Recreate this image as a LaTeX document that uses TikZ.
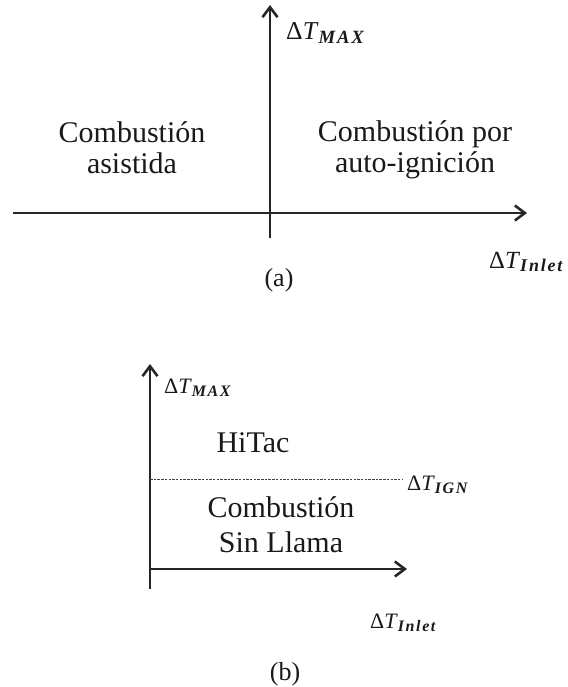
\documentclass[tikz,border=0pt]{standalone}
\usepackage{fontspec}
\setmainfont{Liberation Serif}
\usetikzlibrary{arrows.meta}
\newcommand{\subfnt}{\fontsize{16}{16}\selectfont\bfseries\itshape\addfontfeatures{LetterSpace=10}}
\newcommand{\dlab}[1]{{\fontsize{22}{22}\selectfont Δ\textit{T}}\raisebox{-0.28em}{\subfnt #1}}
\begin{document}
\begin{tikzpicture}[x=1pt,y=-1pt,
  axis/.style={line width=2.6pt,draw=black!85},
  axarrow/.style={axis,-{Straight Barb[length=10pt,width=15pt,line width=2.6pt]}},
  region/.style={align=center,font=\fontsize{30}{31}\selectfont,text=black!90,inner sep=0pt},
  regionb/.style={align=center,font=\fontsize{30}{35}\selectfont,text=black!90,inner sep=0pt},
  axlabel/.style={text=black!90,inner sep=0pt,anchor=west},
  caption/.style={font=\fontsize{26}{26}\selectfont,text=black!90,inner sep=0pt}]
\useasboundingbox (0,0) rectangle (567,687);
% ---- (a)
\coordinate (aO) at (270,213);
\coordinate (aB) at (270,238);
\coordinate (aT) at (270,5);
\coordinate (aL) at (13,213);
\coordinate (aR) at (527,213);
\draw[axis] (aL) -- (aO);
\draw[axarrow] (aO) -- (aR);
\draw[axarrow] (aB) -- (aT);
\node[axlabel,scale=1.17] (amax) at (286,33) {\dlab{MAX}};
\node[axlabel,scale=1.12] (ainlet) at (489,262) {\dlab{Inlet}};
\node[region] (asist) at (132,148) {Combustión\\asistida};
\node[region] (auto) at (415,150) {Combustión por\\auto-ignición};
\node[caption] (capa) at (279,280) {(a)};
% ---- (b)
\coordinate (bO) at (150,569);
\coordinate (bB) at (150,589);
\coordinate (bT) at (150,364);
\coordinate (bR) at (407,569);
\coordinate (bIgnL) at (150,479);
\coordinate (bIgnR) at (403,479);
\draw[axarrow] (bB) -- (bT);
\draw[axarrow] (bO) -- (bR);
\draw[line width=0.8pt,draw=black!75,dash pattern=on 2.5pt off 1.2pt] (bIgnL) -- (bIgnR);
\node[axlabel] (bmax) at (164,388) {\dlab{MAX}};
\node[axlabel] (bign) at (407,485) {\dlab{IGN}};
\node[axlabel] (binlet) at (370,623) {\dlab{Inlet}};
\node[regionb,anchor=base] (hitac) at (253,452) {HiTac};
\node[regionb] (sinll) at (281,525) {Combustión\\Sin Llama};
\node[caption] (capb) at (285,674) {(b)};
\end{tikzpicture}
\end{document}
